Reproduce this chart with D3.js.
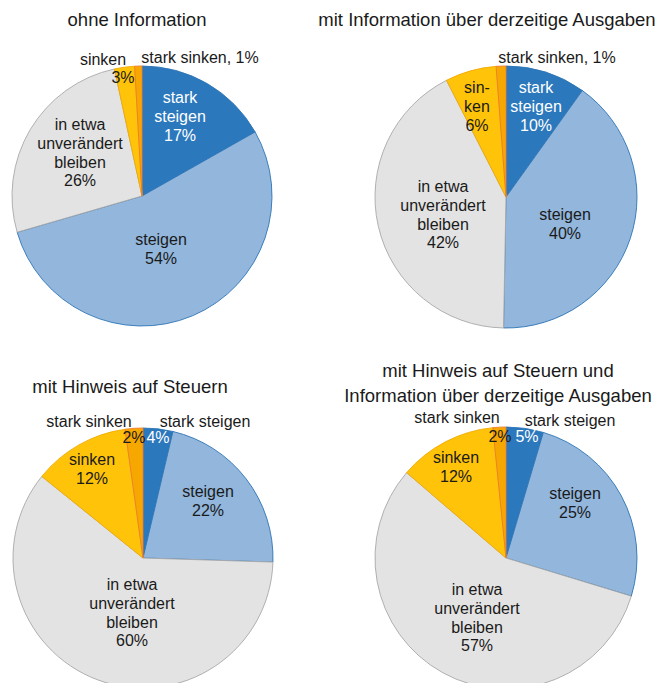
<!DOCTYPE html>
<html><head><meta charset="utf-8">
<script src="https://cdn.jsdelivr.net/npm/d3@7"></script>
<style>
html,body{margin:0;padding:0;background:#fff;}
svg text{font-family:"Liberation Sans",Arial,sans-serif;}
</style></head>
<body>
<svg id="chart" width="665" height="683"></svg>
<script>
// ---- data ----
const categories = ["stark steigen", "steigen", "in etwa unverändert bleiben", "sinken", "stark sinken"];
const titles = [
  ["ohne Information"],
  ["mit Information über derzeitige Ausgaben"],
  ["mit Hinweis auf Steuern"],
  ["mit Hinweis auf Steuern und", "Information über derzeitige Ausgaben"]
];
const valuesOhne     = [16.8, 53.7, 26.1, 2.5, 0.9];
const valuesInfo     = [9.9, 40.4, 42.2, 6.3, 1.2];
const valuesSteuern  = [3.7, 21.8, 60.3, 12.0, 2.2];
const valuesBeide    = [4.6, 25.1, 56.6, 12.1, 1.6];
const seriesValues = [valuesOhne, valuesInfo, valuesSteuern, valuesBeide];

// ---- style / layout ----
const fills   = ["#2B78BD", "#92B6DC", "#E3E3E3", "#FFC40A", "#F7A800"];
const strokes = ["#2E75B6", "#2E75B6", "#A8A8A8", "#F2A900", "#ED7D31"];
const panels = [
  {cx:142, cy:196, r:130, tx:137, ty:26},
  {cx:506, cy:197, r:131, tx:487, ty:26},
  {cx:143, cy:558, r:130, tx:130, ty:393},
  {cx:506, cy:558, r:131, tx:498, ty:377}
];
// label blocks: slice index, text lines ({p} = percent), position relative to pie centre (first baseline)
const labelLayouts = [
  [
    {i:0, lines:["stark","steigen","{p}"], x:38, y:-93, white:true},
    {i:1, lines:["steigen","{p}"], x:19, y:49},
    {i:2, lines:["in etwa","unverändert","bleiben","{p}"], x:-62, y:-66},
    {i:3, lines:["sinken"], x:-39, y:-131},
    {i:3, lines:["{p}"], x:-19, y:-113},
    {i:4, lines:["stark sinken, {p}"], x:58, y:-133}
  ],
  [
    {i:0, lines:["stark","steigen","{p}"], x:30, y:-104, white:true},
    {i:1, lines:["steigen","{p}"], x:59, y:23},
    {i:2, lines:["in etwa","unverändert","bleiben","{p}"], x:-63, y:-5},
    {i:3, lines:["sin-","ken","{p}"], x:-29, y:-104},
    {i:4, lines:["stark sinken, {p}"], x:51, y:-134}
  ],
  [
    {i:0, lines:["{p}"], x:15, y:-115, white:true},
    {i:0, lines:["stark steigen"], x:62, y:-131},
    {i:1, lines:["steigen","{p}"], x:65, y:-61},
    {i:2, lines:["in etwa","unverändert","bleiben","{p}"], x:-11, y:32},
    {i:3, lines:["sinken","{p}"], x:-51, y:-93},
    {i:4, lines:["{p}"], x:-9, y:-115},
    {i:4, lines:["stark sinken"], x:-54, y:-131}
  ],
  [
    {i:0, lines:["{p}"], x:21, y:-116, white:true},
    {i:0, lines:["stark steigen"], x:64, y:-132},
    {i:1, lines:["steigen","{p}"], x:69, y:-59},
    {i:2, lines:["in etwa","unverändert","bleiben","{p}"], x:-29, y:37},
    {i:3, lines:["sinken","{p}"], x:-50, y:-95},
    {i:4, lines:["{p}"], x:-6, y:-116},
    {i:4, lines:["stark sinken"], x:-49, y:-135}
  ]
];

const svg = d3.select("#chart");
const pie = d3.pie().sort(null).value(d => d);
const fmt = v => Math.round(v) + "%";

seriesValues.forEach((vals, k) => {
  const p = panels[k];
  const g = svg.append("g").attr("transform", `translate(${p.cx},${p.cy})`);
  const arc = d3.arc().innerRadius(0).outerRadius(p.r);
  g.selectAll("path").data(pie(vals)).join("path")
    .attr("d", arc)
    .attr("fill", (d, i) => fills[i])
    .attr("stroke", (d, i) => strokes[i])
    .attr("stroke-width", 0.9)
    .attr("stroke-linejoin", "round");

  // title
  const t = svg.append("text").attr("text-anchor", "middle")
    .attr("font-size", 18.5).attr("fill", "#1a1a1a");
  titles[k].forEach((line, j) => {
    t.append("tspan").attr("x", p.tx).attr("y", p.ty + j * 25).text(line);
  });

  // labels
  labelLayouts[k].forEach(L => {
    const txt = g.append("text").attr("text-anchor", "middle")
      .attr("font-size", 16)
      .attr("fill", L.white ? "#ffffff" : "#1a1a1a");
    L.lines.forEach((line, j) => {
      txt.append("tspan").attr("x", L.x).attr("y", L.y + j * 18.8)
        .text(line.replace("{p}", fmt(vals[L.i])));
    });
  });
});
</script>
</body></html>
